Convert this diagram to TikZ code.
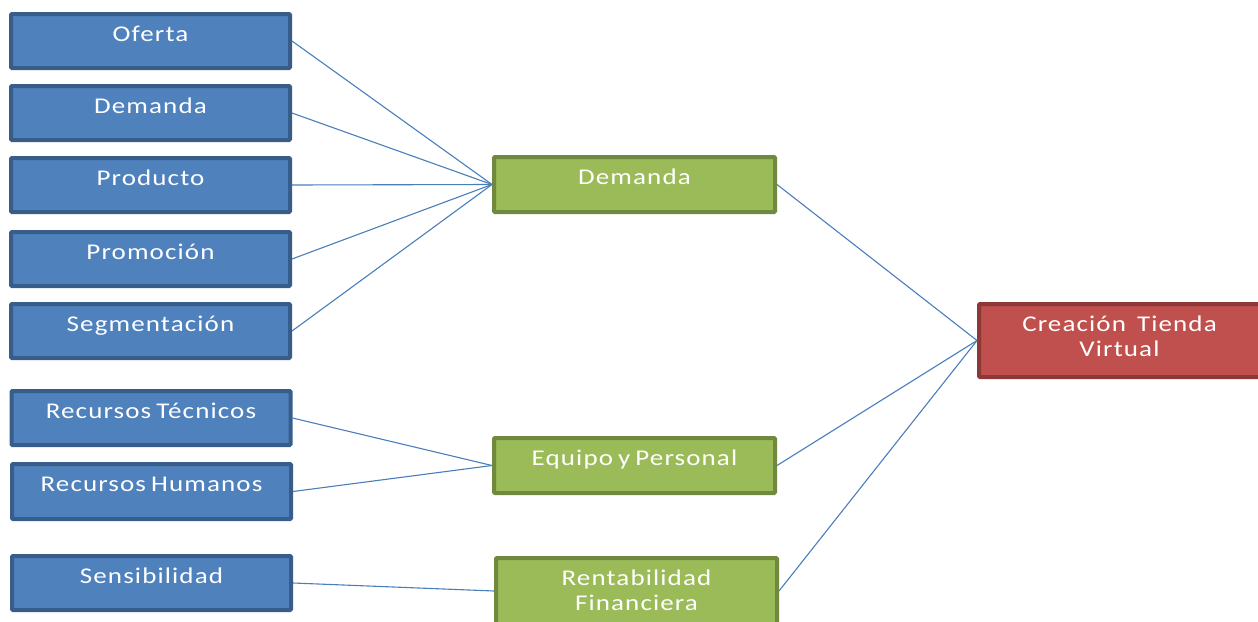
\documentclass[tikz,border=0pt]{standalone}
\usepackage{fontspec}
\setmainfont{Carlito}[FakeStretch=1.2,LetterSpace=5,WordSpace=0.7]
\definecolor{bluefill}{HTML}{4F81BD}
\definecolor{blueline}{HTML}{385D8A}
\definecolor{greenfill}{HTML}{9BBB59}
\definecolor{greenline}{HTML}{71893F}
\definecolor{redfill}{HTML}{C0504D}
\definecolor{redline}{HTML}{8C3836}
\definecolor{linkcol}{HTML}{4A7EBB}
\tikzset{
  box/.style={draw, line width=4pt, inner sep=0pt, rounded corners=1pt,
              minimum width=279pt, minimum height=54pt},
  bluebox/.style={box, fill=bluefill, draw=blueline},
  greenbox/.style={box, fill=greenfill, draw=greenline, minimum width=281pt, minimum height=55pt},
  redbox/.style={box, fill=redfill, draw=redline, minimum width=281pt, minimum height=73pt},
  lbl/.style={anchor=base, text=white, font=\fontsize{22.5}{25}\selectfont, inner sep=0pt, align=center},
  link/.style={draw=linkcol, line width=1.1pt}
}
\begin{document}
\begin{tikzpicture}[x=1pt, y=-1pt]
\useasboundingbox (0,0) rectangle (1258,621);
\clip (0,0) rectangle (1258,621);

% factor boxes (left column)
\node[bluebox] (oferta) at (150.5,41) {};
\node[bluebox] (demanda) at (150.5,113) {};
\node[bluebox] (producto) at (150.5,185) {};
\node[bluebox] (promocion) at (150.5,259) {};
\node[bluebox] (segmentacion) at (150.5,331) {};
\node[bluebox] (rtecnicos) at (151,418) {};
\node[bluebox, minimum height=55pt] (rhumanos) at (151.5,491.5) {};
\node[bluebox] (sensibilidad) at (151.5,583) {};

\node[lbl] (toferta) at ([yshift=-29pt]oferta.north) {Oferta};
\node[lbl] (tdemanda) at ([yshift=-29pt]demanda.north) {Demanda};
\node[lbl] (tproducto) at ([yshift=-29pt]producto.north) {Producto};
\node[lbl] (tpromocion) at ([yshift=-29pt]promocion.north) {Promoción};
\node[lbl] (tsegmentacion) at ([yshift=-29pt]segmentacion.north) {Segmentación};
\node[lbl] (trtecnicos) at ([yshift=-29pt]rtecnicos.north) {Recursos Técnicos};
\node[lbl] (trhumanos) at ([yshift=-29pt]rhumanos.north) {Recursos Humanos};
\node[lbl] (tsensibilidad) at ([yshift=-29pt]sensibilidad.north) {Sensibilidad};

% intermediate boxes
\node[greenbox] (gdemanda) at (634.5,184.5) {};
\node[greenbox] (equipo) at (634.5,465.5) {};
\node[greenbox, minimum height=66pt] (rentab) at (636.5,591) {};

\node[lbl] (tgdemanda) at ([yshift=-29pt]gdemanda.north) {Demanda};
\node[lbl] (tequipo) at ([yshift=-29pt]equipo.north) {Equipo y Personal};
% two-line labels: the base anchor sits on the last line
\node[lbl] (trentab) at ([yshift=-54pt]rentab.north) {Rentabilidad\\Financiera};

% goal box
\node[redbox] (tienda) at (1119.5,340.5) {};
\node[lbl] (ttienda) at ([yshift=-54pt]tienda.north) {Creación\hspace{6pt} Tienda\\Virtual};

% connectors
\foreach \s in {oferta,demanda,producto,promocion,segmentacion}
  \draw[link] (\s.east) -- (gdemanda.west);
\foreach \s in {rtecnicos,rhumanos}
  \draw[link] (\s.east) -- (equipo.west);
\draw[link] (sensibilidad.east) -- (rentab.west);
\foreach \s in {gdemanda,equipo,rentab}
  \draw[link] (\s.east) -- (tienda.west);
\end{tikzpicture}
\end{document}
